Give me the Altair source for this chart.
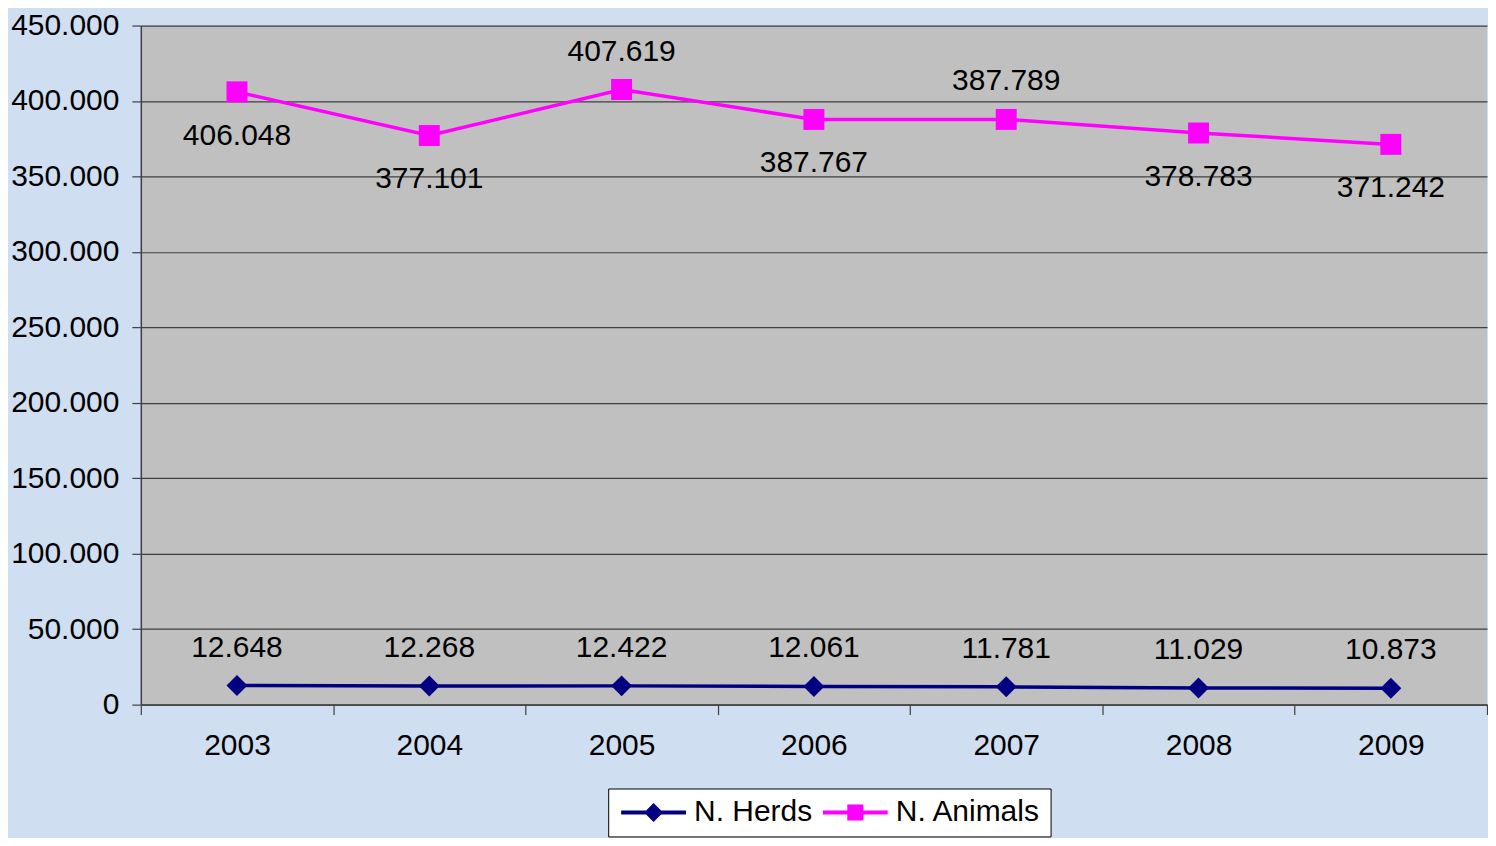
import altair as alt
import pandas as pd

# ---- data ----
years = ["2003", "2004", "2005", "2006", "2007", "2008", "2009"]
herds = [12648, 12268, 12422, 12061, 11781, 11029, 10873]
animals = [406048, 377101, 407619, 387767, 387789, 378783, 371242]
herds_label_side = ["above", "above", "above", "above", "above", "above", "above"]
animals_label_side = ["below", "below", "above", "below", "above", "below", "below"]
series_names = ["N. Herds", "N. Animals"]
y_tick_values = [0, 50000, 100000, 150000, 200000, 250000, 300000, 350000, 400000, 450000]

# ---- styles ----
series_colors = ["#000080", "#FF00FF"]
FONT = "Liberation Sans"
FS = 30

rows = []
for name, vals, sides in [(series_names[0], herds, herds_label_side),
                          (series_names[1], animals, animals_label_side)]:
    for yr, v, s in zip(years, vals, sides):
        rows.append({"year": yr, "value": v, "series": name, "side": s,
                     "label": f"{v:,}".replace(",", ".")})
df = pd.DataFrame(rows)

# legend symbols: line segment + marker (custom SVG paths)
seg = "M-1,-0.18H4.9V0.18H-1Z"
leg_diamond = seg + " M1.09,0L1.95,-0.86L2.81,0L1.95,0.86Z"
leg_square = seg + " M1.22,-0.73H2.68V0.73H1.22Z"

x = alt.X("year:O",
          scale=alt.Scale(type="band", paddingInner=0, paddingOuter=0),
          axis=alt.Axis(title=None, labelAngle=0, tickBand="extent", tickSize=10,
                        labelPadding=16, labelFont=FONT, labelFontSize=FS,
                        labelColor="black", domainColor="#404040", domainWidth=1.5,
                        tickColor="#404040", tickWidth=1.2, grid=False))
y = alt.Y("value:Q",
          scale=alt.Scale(domain=[0, 450000], nice=False, zero=True),
          axis=alt.Axis(title=None, values=y_tick_values,
                        labelExpr="replace(format(datum.value, ','), ',', '.')",
                        tickSize=9, labelPadding=13, labelFont=FONT, labelFontSize=FS,
                        labelColor="black", domainColor="#404040", domainWidth=1.5,
                        tickColor="#404040", tickWidth=1.2,
                        grid=True, gridColor="#404040", gridWidth=1.2))

color = alt.Color("series:N", scale=alt.Scale(domain=series_names, range=series_colors),
                  legend=None)
shape = alt.Shape("series:N", scale=alt.Scale(domain=series_names, range=["diamond", "square"]),
                  legend=None)

base = alt.Chart(df)

lines = base.mark_line(strokeWidth=3.5).encode(x=x, y=y, color=color)
points = base.mark_point(filled=True, size=441, opacity=1).encode(
    x=x, y=y, color=color, shape=shape)

labels_above = base.transform_filter("datum.side == 'above'").mark_text(
    dy=-38, font=FONT, fontSize=FS, color="black").encode(x=x, y=y, text="label:N")
labels_below = base.transform_filter("datum.side == 'below'").mark_text(
    dy=44, font=FONT, fontSize=FS, color="black").encode(x=x, y=y, text="label:N")

legend_def = alt.Legend(title=None, orient="none", legendX=468, legendY=764,
                        direction="horizontal", columns=2,
                        labelFont=FONT, labelFontSize=FS, labelColor="black",
                        labelLimit=0, symbolSize=484, symbolStrokeWidth=0,
                        symbolOpacity=1, labelOffset=47, columnPadding=6,
                        padding=9, fillColor="white", strokeColor="black")

legend_layer = base.transform_filter("false").mark_point(filled=True, size=484, opacity=1).encode(
    x=x, y=y,
    color=alt.Color("series:N", scale=alt.Scale(domain=series_names, range=series_colors),
                    legend=legend_def),
    shape=alt.Shape("series:N", scale=alt.Scale(domain=series_names, range=[leg_diamond, leg_square]),
                    legend=legend_def),
)

chart = alt.layer(lines, points, labels_above, labels_below, legend_layer).resolve_scale(
    color="independent", shape="independent"
).properties(
    width=1348, height=680,
    background="#cfdef1",
    padding={"left": 2, "top": 2, "right": 0, "bottom": 0},
).configure_view(fill="#C0C0C0", strokeWidth=0)

chart.save("out.html", embed_options={"renderer": "svg", "actions": False})
